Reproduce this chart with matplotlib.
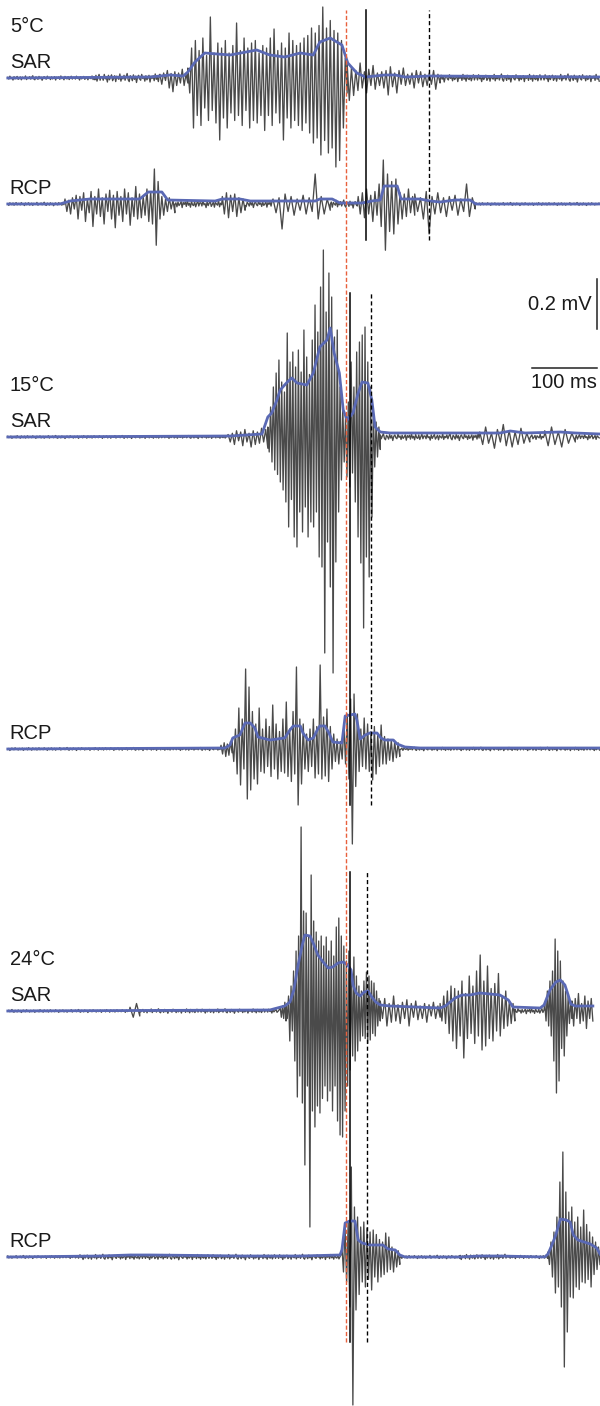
import numpy as np
import matplotlib
matplotlib.use("Agg")
import matplotlib.pyplot as plt

plt.rcParams['font.family'] = ['Liberation Sans', 'DejaVu Sans']

# time in ms, amplitude in uV (relative to each trace's baseline)
NOISE = [0.3, -0.5, 0.8, -0.2, 0.1, -0.9, 0.6, -0.4, 0.2, 0.7, -0.6, -0.1, 0.5, -0.8, 0.4, 0.0,
         -0.3, 0.9, -0.7, 0.2, -0.2, 0.6, -0.5, 0.3, 1.0, -0.4, -0.8, 0.5, 0.1, -0.6, 0.7, -0.3,
         0.4, -1.0, 0.2, 0.6, -0.2, -0.5, 0.8, -0.1, 0.3, -0.7, 0.5, -0.4, 0.0, 0.6, -0.9, 0.4,
         -0.1, 0.5, -0.6, 0.9, -0.3, 0.2, -0.8, 0.7, -0.2, -0.4, 0.6, -0.7, 0.1, 0.8, -0.5, 0.3]

# baselines (uV offset of each trace)
offsets = {'5_SAR': 5312, '5_RCP': 4808, '15_SAR': 3876, '15_RCP': 2628,
           '24_SAR': 1580, '24_RCP': 596}

sar5_burst = [40, -60, 120, -200, 150, -150, 110, -190,
              160, -120, 90, -170, 244, -130, 100, -180,
              140, -248, 120, -160, 150, -200, 100, -140,
              130, -170, 220, -150, 110, -190, 160, -130,
              120, -200, 140, -170, 150, -180, 100, -150,
              130, -210, 120, -150, 160, -190, 196, -140,
              110, -180, 140, -248, 120, -160, 180, -200,
              150, -170, 130, -190, 140, -210, 160, -180,
              170, -220, 200, -260, 180, -240, 210, -308,
              284, -250, 200, -300, 230, -280, 190, -356,
              180, -330, 150, -200, 80, -60]
sar5_post = [60, -90, 40, -70, 30, -50, 60, -40, 25, -60, 35, -30, 50, -45, 20, -30, 25, -40,
             30, -68, 45, -35, 20, -60, 30, -25, 40, -30, 15, -25, 20, -40, 30, -20, 25, -35,
             15, -30, 20, -25, 30, -45, 15, -20]
sar5 = [('n', 12, 146, 9), ('n', 146, 246, 18),
        ('b', 246, 289, [15, -25, 20, -10, 30, -40, 18, -55, 25, -30, 20, -20, 35, -30, 15, -20]),
        ('b', 289, 534, sar5_burst), ('b', 534, 677, sar5_post), ('n', 677, 923, 16)]

rcp5_a = [20, -30, 15, -40, 25, -20, 35, -60, 30, -25,
          45, -70, 20, -35, 50, -90, 30, -40, 60, -50,
          25, -80, 40, -30, 55, -60, 35, -95, 50, -45,
          30, -70, 60, -40, 45, -85, 25, -50, 70, -60,
          40, -55, 30, -45, 60, -70, 50, -80, 140, -165,
          90, -60, 30, -45, 20, -30, 25, -20, 15, -35]
rcp5_b = [30, -40, 45, -55, 60, -40, 35, -70, 50, -45, 80, -90, 176, -185, 120, -110,
          90, -120, 100, -80, 45, -60, 40, -50, 60, -35, 30, -45]
rcp5 = [('n', 12, 100, 7), ('b', 100, 269, rcp5_a), ('n', 269, 342, 16),
        ('b', 342, 377, [30, -40, 45, -55, 35, -30, 40, -50, 25, -35, 20, -25]),
        ('n', 377, 420, 14),
        ('b', 420, 508, [20, -35, 25, -100, 40, -30, 30, -45, 20, -25, 35, -40, 25, -30, 120, -60,
                         30, -40, 20, -25]),
        ('n', 508, 551, 16), ('b', 551, 638, rcp5_b),
        ('b', 638, 731, [40, -30, 25, -60, 50, -120, 30, -40, 45, -35, 25, -50, 30, -25, 35, -45,
                         20, -30, 80, -50, 25, -20]),
        ('n', 731, 923, 6)]

sar15_burst = [40, -60, 120, -100, 200, -132, 256, -150,
               308, -180, 220, -212, 180, -260,
               416, -360, 300, -250, 340, -400,
               280, -440, 348, -300, 260, -380,
               428, -280, 320, -400, 250, -340,
               388, -360, 528, -300, 420, -480,
               600, -520, 748, -864, 500, -420,
               656, -600, 560, -944, 400, -500,
               428, -300, 200, -172, 120, -100,
               80, -160, 140, -200, 300, -144,
               200, -260, 340, -400, 380, -504,
               408, -764, 440, -480, 300, -560,
               200, -320, 100, -120, 60, -80, 40, -50]
sar15 = [('n', 12, 351, 6),
         ('b', 351, 412, [10, -20, 15, -30, 25, -15, 20, -35, 30, -20, 15, -40, 25, -30, 20, -25,
                          35, -20, 30, -45]),
         ('b', 412, 585, sar15_burst), ('n', 585, 738, 14),
         ('b', 738, 815, [20, -30, 40, -25, 15, -45, 30, -20, 50, -35, 25, -40, 20, -30, 35, -25,
                          15, -20]),
         ('n', 815, 838, 12),
         ('b', 838, 885, [25, -35, 40, -30, 20, -40, 30, -25, 15, -20]),
         ('n', 885, 923, 12)]

rcp15_burst = [30, -50, 80, -100, 164, -144,
               120, -80, 320, -200, 248, -164,
               150, -120, 100, -140, 164, -90,
               80, -96, 120, -70, 90, -110,
               176, -80, 100, -120, 70, -90,
               120, -96, 188, -110, 80, -130,
               150, -100, 328, -224, 120, -140,
               100, -80, 60, -90, 80, -70,
               120, -116, 90, -100, 336, -120,
               128, -108, 160, -130, 90, -80,
               60, -50, 40, -60, 30, -40,
               100, -60, 140, -120, 200, -380,
               220, -150, 140, -90, 80, -70,
               124, -80, 100, -90, 70, -124,
               90, -100, 60, -70, 96, -60,
               50, -60, 40, -45, 35, -50, 30, -35, 25, -30]
rcp15 = [('n', 12, 340, 6), ('b', 340, 357, [15, -20, 25, -30, 20, -25, 30, -15]),
         ('b', 357, 615, rcp15_burst), ('n', 615, 923, 7)]

sar24_burst = [20, -30, 60, -120, 100, -80,
               160, -200, 240, -344, 300, -260,
               736, -368, 400, -616, 392, -300,
               300, -864, 544, -400, 360, -464,
               316, -380, 280, -408, 300, -350,
               260, -300, 296, -360, 240, -320,
               280, -400, 220, -300, 336, -440,
               372, -496, 300, -504, 260, -400,
               200, -300, 240, -236, 160, -180,
               216, -200, 140, -160, 100, -120,
               80, -100, 120, -110, 156, -130,
               140, -116, 120, -90, 112, -100,
               80, -60, 50, -40]
sar24_mid = [30, -40, 60, -50, 80, -90, 100, -120, 90, -150, 80, -100, 120, -188, 70, -110,
             140, -90, 100, -130, 160, -100, 224, -156, 120, -140, 180, -110, 90, -120, 110, -80,
             150, -100, 60, -70, 80, -60, 40, -50, 30, -40]
sar24 = [('n', 12, 200, 6), ('b', 200, 215, [15, -25, 30, -20]), ('n', 215, 431, 9),
         ('b', 431, 440, [15, -25, 20, -30, 35, -40]),
         ('b', 440, 585, sar24_burst),
         ('b', 585, 677, [40, -30, 50, -60, 30, -45, 60, -40, 25, -50, 35, -30, 45, -60, 30, -25,
                          40, -35, 20, -30, 30, -45, 25, -20, 35, -30, 20, -25]),
         ('b', 677, 792, sar24_mid), ('n', 792, 838, 12),
         ('b', 838, 880, [30, -40, 80, -60, 120, -100, 160, -200, 288, -328, 240, -280, 200, -150,
                          120, -180, 80, -100, 60, -50, 40, -30]),
         ('b', 880, 912, [40, -60, 50, -30, 70, -50, 30, -40, 60, -70, 40, -30, 50, -40])]

rcp24 = [('n', 12, 123, 6), ('n', 123, 526, 11),
         ('b', 526, 615, [40, -60, 120, -100, 140, -200, 360, -592, 200, -212, 160, -150, 120, -100,
                          140, -120, 116, -90, 100, -132, 108, -80, 90, -100, 70, -80, 60, -70,
                          96, -60, 80, -50, 40, -60, 30, -40, 25, -30]),
         ('n', 615, 708, 7), ('n', 708, 780, 11), ('n', 780, 843, 7),
         ('b', 843, 923, [20, -30, 60, -80, 100, -144, 160, -120, 300, -200, 420, -440, 260, -300,
                          180, -160, 200, -164, 140, -120, 160, -130, 120, -100, 188, -104, 130, -90,
                          100, -120, 80, -70, 60, -50, 40, -30])]

# rectified envelopes (ms, uV above baseline)
env_sar5_t = [12, 231, 262, 282, 289, 300, 315, 354, 395, 415, 438, 462, 482, 492, 508, 526, 535,
              549, 562, 592, 608, 623, 662, 923]
env_sar5_v = [0, 4, 12, 8, 24, 64, 100, 92, 112, 92, 84, 100, 92, 144, 160, 132, 60,
              20, 4, 12, 12, 4, 8, 4]
env_rcp5_t = [12, 92, 108, 138, 215, 228, 249, 258, 331, 342, 369, 385, 485, 492, 511, 523, 557,
              572, 585, 591, 611, 617, 646, 662, 677, 700, 723, 732, 923]
env_rcp5_v = [0, 0, 12, 20, 20, 48, 48, 16, 12, 20, 20, 12, 12, 20, 20, 4, 4,
              12, 16, 72, 72, 20, 20, 12, 8, 16, 16, 0, 0]
env_sar15_t = [12, 354, 403, 412, 418, 426, 431, 442, 449, 457, 472, 482, 492, 503, 508, 514, 522,
               528, 534, 543, 551, 557, 566, 572, 577, 585, 600, 769, 785, 808, 862, 885, 923]
env_sar15_v = [0, 4, 12, 80, 96, 148, 188, 220, 236, 216, 208, 256, 360, 388, 436, 336, 256,
               108, 68, 96, 176, 220, 216, 148, 40, 20, 16, 16, 24, 16, 20, 16, 12]
env_rcp15_t = [12, 346, 354, 358, 369, 377, 385, 392, 397, 415, 438, 446, 451, 462, 466, 474, 482,
               488, 492, 500, 506, 512, 526, 531, 546, 549, 554, 562, 569, 580, 586, 592, 605, 611,
               623, 646, 923]
env_rcp15_v = [0, 4, 16, 44, 56, 104, 104, 84, 48, 36, 44, 76, 92, 92, 64, 36, 44,
               76, 92, 92, 64, 28, 24, 132, 140, 116, 40, 56, 64, 64, 44, 36, 36, 20,
               8, 4, 4]
env_sar24_t = [12, 415, 438, 446, 452, 458, 465, 469, 477, 483, 489, 497, 505, 512, 520, 528, 535,
               540, 543, 548, 554, 560, 566, 572, 578, 585, 600, 677, 685, 700, 711, 723, 738, 754,
               769, 782, 789, 831, 837, 846, 855, 862, 869, 874, 878, 885, 912]
env_sar24_v = [0, 4, 20, 36, 84, 176, 264, 304, 300, 264, 224, 196, 172, 176, 192, 196, 184,
               164, 104, 72, 60, 76, 80, 56, 36, 24, 20, 12, 20, 52, 64, 64, 72, 68,
               64, 44, 16, 12, 24, 84, 116, 124, 104, 64, 28, 20, 20]
env_rcp24_t = [12, 154, 200, 231, 308, 369, 462, 523, 526, 531, 538, 546, 551, 557, 569, 589, 597,
               608, 615, 623, 708, 738, 769, 838, 843, 849, 855, 862, 871, 877, 882, 889, 908, 918,
               923]
env_rcp24_v = [0, 4, 8, 8, 6, 4, 4, 8, 28, 136, 144, 144, 68, 56, 48, 48, 32,
               28, 8, 0, 0, 4, 4, 0, 12, 48, 88, 152, 148, 140, 88, 68, 52, 36,
               12]

traces = [('5_SAR', sar5, env_sar5_t, env_sar5_v), ('5_RCP', rcp5, env_rcp5_t, env_rcp5_v),
          ('15_SAR', sar15, env_sar15_t, env_sar15_v), ('15_RCP', rcp15, env_rcp15_t, env_rcp15_v),
          ('24_SAR', sar24, env_sar24_t, env_sar24_v), ('24_RCP', rcp24, env_rcp24_t, env_rcp24_v)]

temps = ['5°C', '15°C', '24°C']
red_t = 532
# solid / dashed markers per temperature: (t solid, t dashed, y bottom, y top)
markers = [(563, 660, 4664, 5584), (538, 571, 2404, 4452), (538, 565, 256, 2136)]


def build(segments, shift):
    ts, vs = [], []
    for k, (kind, t0, t1, arg) in enumerate(segments):
        if kind == 'n':
            t = np.arange(t0, t1, 1.6)
            v = arg * np.resize(np.roll(NOISE, 7 * k + shift), len(t))
        else:
            t = np.linspace(t0, t1, len(arg))
            v = np.asarray(arg, dtype=float)
        ts.append(t)
        vs.append(v)
    return np.concatenate(ts), np.concatenate(vs)


fig = plt.figure(figsize=(6, 14.06), dpi=100)
ax = fig.add_axes([0, 0, 1, 1])
ax.set_xlim(0, 923)
ax.set_ylim(0, 5624)
ax.axis('off')

for i, (name, segs, et, ev) in enumerate(traces):
    base = offsets[name]
    t, v = build(segs, 11 * i)
    ax.plot(t, v + base, color='#4a4a4a', lw=0.95, zorder=2)
    ax.plot(et, np.array(ev) + base, color='#5a69b4', lw=2.0, zorder=3,
            solid_joinstyle='round')
    ax.text(15, base + 62, name.split('_')[1], fontsize=14.5, ha='left', va='center',
            color='#1a1a1a')
    if name.endswith('SAR'):
        ax.text(15, base + 206, temps[i // 2], fontsize=14.5, ha='left', va='center',
                color='#1a1a1a')

ax.plot([red_t, red_t], [256, 5584], color='#e8603c', lw=1.0, ls=(0, (3, 1.6)), zorder=5)
for ts_, td, y0, y1 in markers:
    ax.plot([ts_, ts_], [y0, y1], color='black', lw=1.1, zorder=4)
    ax.plot([td, td], [y0, y1], color='black', lw=1.0, ls=(0, (3, 2)), zorder=4)

# scale bars
ax.plot([918, 918], [4308, 4508], color='#222222', lw=1.1)
ax.text(910, 4408, '0.2 mV', fontsize=14.5, ha='right', va='center', color='#1a1a1a')
ax.plot([818, 918], [4152, 4152], color='#222222', lw=1.1)
ax.text(868, 4094, '100 ms', fontsize=14.5, ha='center', va='center', color='#1a1a1a')

fig.savefig('out.png', dpi=100)
